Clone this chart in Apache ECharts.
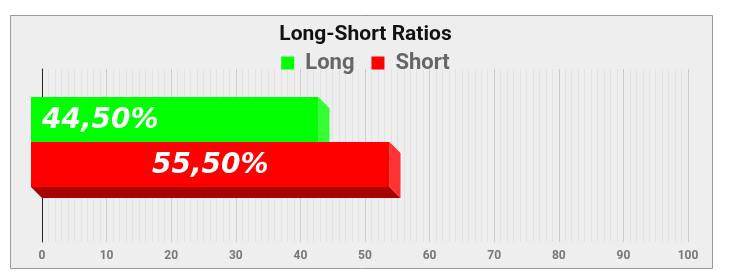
<!DOCTYPE html>
<html>
<head>
<meta charset="utf-8">
<script src="https://cdn.jsdelivr.net/npm/echarts@6/dist/echarts.min.js"></script>
<style>
html,body{margin:0;padding:0;background:#fff;}
#chart{width:731px;height:279px;}
</style>
</head>
<body>
<div id="chart"></div>
<script>
// ---- data ----
const titleText = 'Long-Short Ratios';
const categories = ['Ratio'];
const seriesNames = ['Long', 'Short'];
const longValues = [44.5];
const shortValues = [55.5];
const xMin = 0, xMax = 100, xInterval = 10;

// ---- style ----
const depth = 11;
const barH = 45;
const faceColors = [
  { front: '#00ff00', side: '#33ff33', bottom: '#00a000' },
  { front: '#ff0000', side: '#ff3333', bottom: '#a80000' }
];
const backTopOffset = [-47.5, -2.5];
const labelMode = ['left', 'center'];

function fmt(v) { return v.toFixed(2).replace('.', ',') + '%'; }

function makeRender(si) {
  return function (params, api) {
    const v = api.value(0);
    const c = api.value(1);
    const p0 = api.coord([0, c]);
    const p1 = api.coord([v, c]);
    const x0 = p0[0], x1 = p1[0];
    const y0 = p0[1] + backTopOffset[si];
    const y1 = y0 + barH;
    const d = depth;
    const col = faceColors[si];
    const children = [
      { type: 'polygon', shape: { points: [[x0 - d, y1 - d], [x1 - d, y1 - d], [x1, y1], [x0, y1]] }, style: { fill: col.bottom } },
      { type: 'polygon', shape: { points: [[x1 - d, y0 - d], [x1, y0], [x1, y1], [x1 - d, y1 - d]] }, style: { fill: col.side } },
      { type: 'rect', shape: { x: x0 - d, y: y0 - d, width: x1 - x0, height: barH }, style: { fill: col.front } }
    ];
    const tx = labelMode[si] === 'left' ? x0 : (x0 - d + (x1 - x0) / 2);
    children.push({
      type: 'text',
      style: {
        text: fmt(v), x: tx, y: y0 - d + barH / 2 + 1,
        fill: '#ffffff', fontSize: 28, fontWeight: 'bold', fontStyle: 'italic',
        fontFamily: '"DejaVu Sans"',
        align: labelMode[si] === 'left' ? 'left' : 'center', verticalAlign: 'middle'
      }
    });
    return { type: 'group', children: children };
  };
}

const chart = echarts.init(document.getElementById('chart'), null, { renderer: 'canvas' });
chart.setOption({
  backgroundColor: '#ffffff',
  animation: false,
  graphic: [{
    type: 'rect', z: -10, silent: true,
    shape: { x: 10.5, y: 15.5, width: 702, height: 253 },
    style: { fill: '#eeeeee', stroke: '#999999', lineWidth: 1 }
  }],
  title: {
    text: titleText, left: 'center', top: 19,
    textStyle: { fontSize: 21, fontWeight: 'bold', color: '#111', fontFamily: 'Roboto' }
  },
  legend: {
    data: seriesNames, top: 47, left: 'center',
    itemWidth: 13, itemHeight: 13, itemGap: 17,
    icon: 'rect',
    textStyle: { fontSize: 22, fontWeight: 'bold', color: '#666', fontFamily: 'Roboto', padding: [0, 0, 0, 6] }
  },
  grid: { left: 42, right: 43, top: 69, bottom: 37 },
  xAxis: {
    type: 'value', min: xMin, max: xMax, interval: xInterval,
    axisLine: { show: false }, axisTick: { show: false },
    axisLabel: { color: '#777', fontSize: 12, fontWeight: 'bold', fontFamily: 'Roboto', margin: 8 },
    splitLine: { show: true, lineStyle: { color: '#cccccc', width: 1 } },
    minorTick: { show: false, splitNumber: 10 },
    minorSplitLine: { show: true, lineStyle: { color: '#e2e2e2', width: 1 } }
  },
  yAxis: {
    type: 'category', data: categories,
    axisLine: { show: true, lineStyle: { color: '#222', width: 1 } },
    axisTick: { show: false }, axisLabel: { show: false }, splitLine: { show: false }
  },
  series: [
    { name: seriesNames[0], type: 'custom', itemStyle: { color: faceColors[0].front },
      renderItem: makeRender(0), encode: { x: 0, y: 1 },
      data: longValues.map((v, i) => [v, i]), z: 2 },
    { name: seriesNames[1], type: 'custom', itemStyle: { color: faceColors[1].front },
      renderItem: makeRender(1), encode: { x: 0, y: 1 },
      data: shortValues.map((v, i) => [v, i]), z: 3 }
  ]
});
</script>
</body>
</html>
